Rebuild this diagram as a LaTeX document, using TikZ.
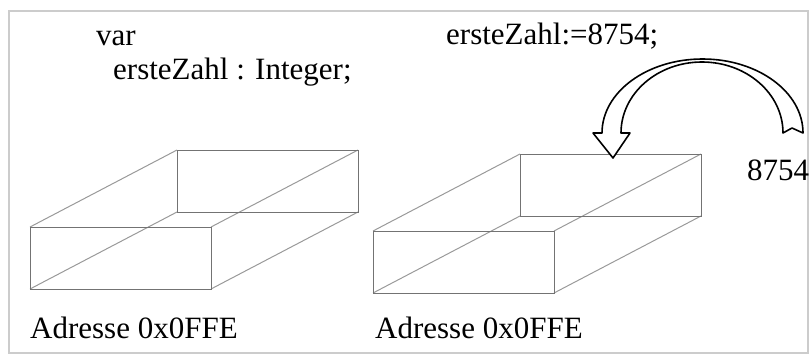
\documentclass[tikz,border=0pt]{standalone}
\usepackage{fontspec}
\setmainfont{Liberation Serif}

\def \cellW {181}
\def \cellH {62}
\def \depthX {147}
\def \depthY {-77}

\tikzset{
  code/.style={anchor=base west, inner sep=0pt, font=\fontsize{31}{33}\selectfont},
  cell/.style={draw=black!55, line width=1pt},
  depth/.style={draw=black!40, line width=1pt},
  flow/.style={draw=black, line width=1.6pt, fill=white, line join=round}
}

\begin{document}
\begin{tikzpicture}[x=1pt, y=-1pt]
  \useasboundingbox (0,0) rectangle (811,361);
  \draw[black!20, line width=2pt] (9,11) rectangle (808,353);

  % declaration and assignment
  \node[code] (var) at (96,46) {var};
  \node[code] (decl) at (113,79) {ersteZahl : Integer;};
  \node[code] (assign) at (446,45) {ersteZahl:=8754;};
  \node[code] (value) at (747,180) {8754};

  % the two memory cells
  \foreach \bx/\by in {30/227, 373/231} {
    \draw[depth] (\bx,\by) -- ++(\depthX,\depthY);
    \draw[depth] (\bx,\by+\cellH) -- ++(\depthX,\depthY);
    \draw[depth] (\bx+\cellW,\by) -- ++(\depthX,\depthY);
    \draw[depth] (\bx+\cellW,\by+\cellH) -- ++(\depthX,\depthY);
    \draw[cell] (\bx+\depthX,\by+\depthY) rectangle ++(\cellW,\cellH);
    \draw[cell] (\bx,\by) rectangle ++(\cellW,\cellH);
  }
  \node[code] (addrA) at (30,338) {Adresse 0x0FFE};
  \node[code] (addrB) at (375,338) {Adresse 0x0FFE};

  % curved arrow carrying the value into the cell (y axis points down)
  \draw[flow] (803,133) arc[start angle=0, end angle=-180, x radius=100.5, y radius=74]
    -- (593,133) -- (613,158) -- (630,133) -- (621,133)
    arc[start angle=-180, end angle=0, x radius=81, y radius=71]
    -- (792,128) -- cycle;
\end{tikzpicture}
\end{document}
